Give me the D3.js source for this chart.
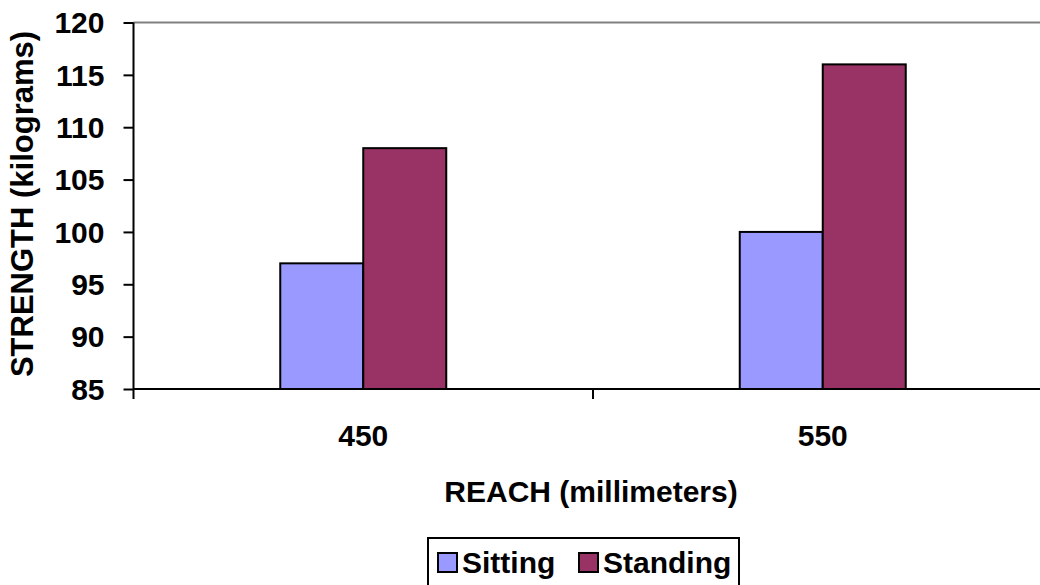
<!DOCTYPE html>
<html><head><meta charset="utf-8">
<script src="https://cdn.jsdelivr.net/npm/d3@7"></script>
<style>body{margin:0;background:#fff}svg{display:block}text{font-family:"Liberation Sans",Arial,sans-serif;font-weight:bold;fill:#000}</style>
</head><body>
<svg id="c" width="1040" height="585"></svg>
<script>
const categories = ["450", "550"];
const seriesNames = ["Sitting", "Standing"];
const sitting = [97, 100];
const standing = [108, 116];
const yTicks = [85, 90, 95, 100, 105, 110, 115, 120];
const colors = ["#9999FF", "#993366"];

const svg = d3.select("#c");
const pLeft = 133.5, pRight = 1052.5, pTop = 22.5, pBottom = 389;
const x = d3.scaleBand().domain(categories).range([pLeft, pRight]);
const y = d3.scaleLinear().domain([85, 120]).range([pBottom, pTop]);
const barW = 83;

// top border
svg.append("line").attr("x1", pLeft).attr("x2", 1040).attr("y1", pTop).attr("y2", pTop)
  .attr("stroke", "#808080").attr("stroke-width", 2);

const series = [sitting, standing];
series.forEach((vals, si) => {
  svg.selectAll(null).data(categories).enter().append("rect")
    .attr("x", d => x(d) + x.bandwidth()/2 - barW + si*barW)
    .attr("width", barW)
    .attr("y", (d,i) => y(vals[i]))
    .attr("height", (d,i) => y(85) - y(vals[i]))
    .attr("fill", colors[si]).attr("stroke", "#000").attr("stroke-width", 2);
});

// y axis
const ya = svg.append("g").attr("transform", `translate(${pLeft},0)`)
  .call(d3.axisLeft(y).tickValues(yTicks).tickSize(10).tickPadding(19));
ya.select(".domain").attr("stroke", "#000").attr("stroke-width", 2).attr("d", `M0,${pTop}V${pBottom+10}`);
ya.selectAll(".tick line").attr("stroke", "#000").attr("stroke-width", 2);
ya.selectAll(".tick text").style("font-size", "30px").attr("dy", "0.34em");

// x axis
const xa = svg.append("g").attr("transform", `translate(0,${pBottom})`)
  .call(d3.axisBottom(x).tickSize(0).tickPadding(37));
xa.select(".domain").attr("stroke", "#000").attr("stroke-width", 2).attr("d", `M${pLeft},0H1040`);
xa.selectAll(".tick text").style("font-size", "30px").attr("dy", "0.68em");
// category separator tick
svg.append("line").attr("x1", x(categories[1])).attr("x2", x(categories[1]))
  .attr("y1", pBottom).attr("y2", pBottom + 10).attr("stroke", "#000").attr("stroke-width", 2);

// titles
svg.append("text").attr("x", 591).attr("y", 502).attr("text-anchor", "middle")
  .style("font-size", "30px").text("REACH (millimeters)");
svg.append("text").attr("transform", "translate(33,204) rotate(-90)").attr("text-anchor", "middle")
  .style("font-size", "31px").text("STRENGTH (kilograms)");

// legend
const lg = svg.append("g");
lg.append("rect").attr("x", 428).attr("y", 538).attr("width", 311).attr("height", 60)
  .attr("fill", "#fff").attr("stroke", "#000").attr("stroke-width", 2);
const legX = [438, 579];
seriesNames.forEach((n, i) => {
  lg.append("rect").attr("x", legX[i]).attr("y", 553).attr("width", 19).attr("height", 19)
    .attr("fill", colors[i]).attr("stroke", "#000").attr("stroke-width", 2);
  lg.append("text").attr("x", legX[i] + 24).attr("y", 573).style("font-size", "30px").text(n);
});
</script>
</body></html>
